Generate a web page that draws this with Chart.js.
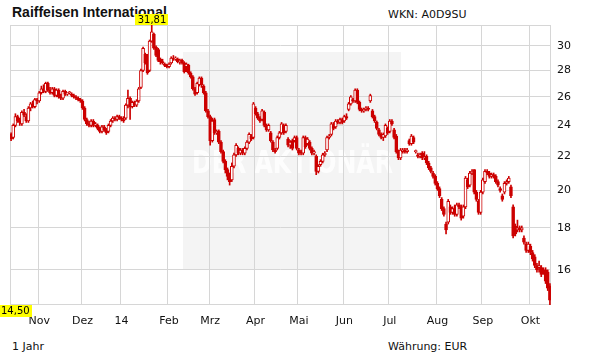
<!DOCTYPE html>
<html>
<head>
<meta charset="utf-8">
<script src="https://cdn.jsdelivr.net/npm/chart.js@4.4.1/dist/chart.umd.min.js"></script>
<style>
  html, body { margin: 0; padding: 0; background: #fff; }
  #wrap { position: relative; width: 611px; height: 364px; font-family: 'DejaVu Sans', Verdana, sans-serif; color: #111; }
  #wrap canvas { position: absolute; left: 0; top: 0; }
  .txt { position: absolute; font-size: 11px; line-height: 13px; white-space: nowrap; }
  #title { left: 12px; top: 4px; font: bold 14px/16px 'Liberation Sans', Arial, sans-serif; }
</style>
</head>
<body>
<div id="wrap">
  <div id="title" class="txt">Raiffeisen International</div>
  <div class="txt" style="left:388px; top:8px">WKN: A0D9SU</div>
  <div class="txt" style="left:12px; top:340px">1 Jahr</div>
  <div class="txt" style="left:388px; top:340px">Währung: EUR</div>
  <canvas id="kurs"></canvas>
</div>
<script>
// month tick labels and number of trading days shown per month (Okt 2013 .. Okt 2014)
const monthTicks = ['', 'Nov', 'Dez', '14', 'Feb', 'Mrz', 'Apr', 'Mai', 'Jun', 'Jul', 'Aug', 'Sep', 'Okt'];
const monthDays = [13, 20, 18, 22, 19, 21, 20, 21, 21, 22, 21, 22, 10];
const yTicks = [16, 18, 20, 22, 24, 26, 28, 30];

// daily prices (EUR)
const open = [
  23.4, 23.2, 24.0, 24.6, 24.3, 24.1, 24.9, 24.6, 24.3, 25.2,
  25.5, 25.3, 25.8, 25.7, 26.3, 26.6, 26.4, 27.0, 26.5, 26.3,
  26.6, 26.1, 26.5, 26.0, 25.9, 26.4, 26.2, 26.3, 26.2, 26.1,
  26.0, 25.9, 25.8, 25.7, 25.2, 24.4, 24.1, 24.0, 24.3, 24.0,
  24.0, 23.8, 23.6, 23.9, 23.7, 23.6, 24.0, 24.3, 24.5, 24.4,
  24.6, 24.5, 24.4, 24.5, 25.4, 25.9, 25.3, 25.6, 25.4, 25.7,
  26.7, 28.0, 29.3, 29.2, 28.0, 30.4, 31.0, 29.9, 29.7, 28.9,
  28.7, 28.5, 28.4, 28.3, 28.6, 29.0, 28.9, 28.9, 28.7, 28.8,
  28.6, 28.3, 28.4, 27.8, 27.5, 26.6, 26.3, 26.9, 27.4, 26.8,
  26.3, 25.0, 24.6, 23.0, 24.4, 23.5, 23.6, 22.9, 22.3, 21.7,
  21.2, 20.8, 20.6, 21.4, 22.1, 22.5, 22.2, 22.4, 22.2, 22.5,
  22.9, 23.3, 23.2, 25.2, 24.8, 24.5, 24.4, 24.9, 24.0, 23.7,
  23.5, 22.9, 22.4, 22.5, 23.2, 23.5, 24.0, 23.6, 23.1, 22.7,
  23.0, 23.0, 23.2, 22.4, 22.3, 22.2, 23.2, 22.8, 22.9, 22.5,
  22.2, 22.0, 21.1, 21.5, 21.7, 22.1, 22.4, 23.2, 23.4, 24.0,
  23.9, 24.3, 24.2, 24.4, 24.3, 24.6, 25.1, 25.5, 25.8, 25.7,
  26.5, 25.6, 25.1, 25.0, 25.1, 25.2, 25.7, 25.0, 24.6, 24.2,
  23.7, 23.4, 23.2, 23.3, 23.8, 23.6, 24.3, 23.7, 23.3, 22.3,
  21.9, 22.3, 22.4, 22.3, 23.0, 22.8, 23.2, 22.3, 22.1, 22.0,
  22.2, 21.9, 22.0, 21.6, 21.3, 21.0, 20.8, 20.4, 20.1, 19.5,
  19.0, 18.2, 18.3, 19.1, 18.8, 19.0, 18.7, 19.2, 19.1, 18.6,
  19.1, 20.6, 20.3, 21.0, 21.2, 19.9, 19.4, 18.8, 19.9, 20.5,
  21.1, 21.0, 20.8, 20.9, 20.8, 20.5, 20.1, 19.7, 19.9, 20.4,
  20.5, 20.2, 19.1, 18.1, 17.9, 18.0, 17.9, 17.5, 17.2, 16.9,
  17.1, 16.8, 16.6, 16.2, 16.1, 16.1, 16.0, 16.0, 15.9, 15.3
];
const close = [
  23.1, 24.0, 24.6, 24.3, 24.2, 24.9, 24.7, 24.3, 25.2, 25.5,
  25.3, 25.8, 25.7, 26.3, 26.6, 26.4, 27.0, 26.5, 26.3, 26.6,
  26.1, 26.5, 26.0, 25.9, 26.4, 26.2, 26.2, 26.3, 26.1, 26.0,
  25.9, 25.8, 25.7, 25.2, 24.4, 24.1, 24.0, 24.3, 24.0, 24.1,
  23.8, 23.6, 23.9, 23.7, 23.5, 24.0, 24.3, 24.5, 24.4, 24.6,
  24.5, 24.4, 24.3, 25.4, 25.9, 25.3, 25.6, 25.4, 25.7, 26.6,
  28.0, 29.8, 28.6, 27.8, 30.4, 31.2, 29.8, 29.2, 28.8, 28.7,
  28.6, 28.4, 28.3, 28.5, 29.0, 28.9, 29.0, 28.7, 28.8, 28.6,
  27.9, 28.5, 27.8, 27.5, 26.6, 26.2, 27.0, 27.4, 26.9, 26.3,
  25.0, 24.6, 23.0, 24.3, 23.5, 23.6, 22.9, 22.3, 21.7, 21.2,
  20.8, 20.5, 21.4, 22.1, 22.7, 22.2, 22.4, 22.2, 22.5, 22.9,
  23.4, 23.1, 25.5, 24.8, 24.5, 24.3, 25.0, 24.0, 23.7, 24.0,
  23.0, 22.4, 22.3, 23.2, 23.5, 24.1, 23.5, 24.0, 22.7, 22.9,
  22.5, 23.2, 22.5, 22.2, 22.2, 23.2, 22.6, 23.1, 22.5, 22.2,
  22.3, 21.1, 21.4, 21.7, 22.1, 22.2, 23.2, 23.3, 24.1, 23.8,
  24.3, 24.2, 24.4, 24.2, 24.6, 24.5, 25.5, 26.0, 25.7, 26.5,
  25.6, 25.1, 25.0, 25.1, 25.2, 25.1, 26.1, 24.6, 24.3, 23.8,
  23.4, 23.2, 23.4, 24.0, 23.5, 24.3, 24.1, 23.2, 22.3, 21.9,
  22.4, 22.4, 22.3, 22.4, 22.8, 23.3, 22.9, 22.3, 22.0, 22.1,
  21.9, 22.0, 21.6, 21.3, 21.1, 20.8, 20.4, 20.1, 19.7, 19.0,
  18.7, 17.9, 19.4, 18.8, 19.0, 18.7, 19.2, 19.1, 18.5, 19.1,
  20.7, 20.2, 21.0, 21.1, 19.9, 19.5, 18.8, 19.9, 20.6, 21.1,
  21.0, 20.8, 20.9, 20.8, 20.5, 20.3, 20.0, 19.5, 20.4, 20.5,
  20.7, 19.7, 17.6, 17.7, 18.0, 17.9, 18.0, 17.3, 16.9, 17.2,
  16.8, 16.5, 16.2, 16.0, 16.2, 15.8, 15.9, 15.5, 15.2, 14.7
];
const high = [
  23.5, 24.1, 24.8, 24.7, 24.5, 25.0, 25.1, 24.8, 25.3, 25.6,
  25.7, 25.9, 25.9, 26.4, 26.8, 26.9, 27.1, 27.1, 26.7, 26.7,
  26.7, 26.6, 26.6, 26.2, 26.5, 26.5, 26.3, 26.4, 26.3, 26.2,
  26.1, 26.0, 25.9, 25.8, 25.3, 24.5, 24.3, 24.4, 24.4, 24.2,
  24.1, 23.9, 24.0, 24.0, 23.8, 24.1, 24.4, 24.6, 24.6, 24.7,
  24.7, 24.6, 24.6, 25.5, 26.5, 26.0, 25.7, 25.7, 25.8, 26.7,
  28.1, 29.9, 29.4, 29.3, 30.5, 31.81, 31.1, 30.0, 29.8, 29.0,
  28.9, 28.6, 28.5, 28.6, 29.1, 29.2, 29.1, 29.0, 28.9, 28.9,
  28.7, 28.6, 28.5, 27.9, 27.6, 26.7, 27.1, 27.5, 27.5, 26.9,
  26.4, 25.1, 24.7, 24.5, 24.5, 23.7, 23.7, 23.0, 22.4, 21.8,
  21.3, 21.0, 21.6, 22.2, 22.8, 22.6, 22.5, 22.5, 22.6, 23.0,
  23.5, 23.4, 25.6, 25.3, 24.9, 24.6, 25.1, 25.0, 24.1, 24.1,
  23.6, 23.0, 22.5, 23.3, 23.6, 24.2, 24.1, 24.1, 23.2, 23.0,
  23.1, 23.3, 23.3, 22.5, 22.4, 23.3, 23.3, 23.2, 23.0, 22.6,
  22.4, 22.1, 21.5, 21.8, 22.2, 22.3, 23.3, 23.4, 24.2, 24.2,
  24.4, 24.4, 24.5, 24.5, 24.7, 24.8, 25.6, 26.1, 25.9, 26.6,
  26.6, 25.7, 25.2, 25.2, 25.3, 25.3, 26.2, 25.1, 24.7, 24.3,
  23.8, 23.5, 23.5, 24.1, 23.9, 24.4, 24.4, 23.8, 23.4, 22.4,
  22.5, 22.5, 22.5, 22.5, 23.1, 23.4, 23.3, 22.4, 22.2, 22.2,
  22.3, 22.3, 22.1, 21.7, 21.4, 21.1, 20.9, 20.5, 20.2, 19.6,
  19.1, 18.3, 19.5, 19.2, 19.1, 19.2, 19.3, 19.3, 19.2, 19.2,
  20.8, 20.7, 21.1, 21.2, 21.2, 20.0, 19.5, 20.0, 20.7, 21.2,
  21.2, 21.1, 21.0, 21.0, 20.9, 20.6, 20.2, 19.8, 20.5, 20.6,
  20.8, 20.3, 19.2, 18.2, 18.4, 18.1, 18.1, 17.6, 17.3, 17.3,
  17.2, 16.9, 16.7, 16.3, 16.4, 16.2, 16.1, 16.1, 16.0, 15.4
];
const low = [
  23.0, 23.1, 23.9, 24.2, 24.0, 24.0, 24.6, 24.2, 24.2, 25.0,
  25.2, 25.2, 25.5, 25.6, 26.2, 26.3, 26.3, 26.4, 26.2, 26.2,
  26.0, 26.0, 25.9, 25.8, 25.8, 26.1, 26.1, 26.2, 26.0, 25.9,
  25.8, 25.7, 25.6, 25.1, 24.3, 24.0, 23.9, 23.9, 23.9, 23.9,
  23.7, 23.5, 23.5, 23.6, 23.4, 23.5, 23.9, 24.2, 24.3, 24.3,
  24.4, 24.3, 24.2, 24.4, 25.2, 24.4, 25.2, 25.3, 25.3, 25.6,
  26.6, 27.9, 28.5, 27.7, 27.9, 30.3, 29.7, 29.1, 28.7, 28.5,
  28.5, 28.3, 28.2, 28.2, 28.5, 28.8, 28.8, 28.6, 28.5, 28.5,
  27.8, 27.9, 27.7, 27.4, 26.5, 26.1, 26.2, 26.8, 26.7, 26.2,
  24.9, 24.5, 22.7, 22.9, 23.4, 23.4, 22.8, 22.2, 21.6, 21.0,
  20.6, 20.3, 20.5, 21.3, 22.0, 22.1, 22.1, 22.1, 22.1, 22.4,
  22.8, 23.0, 23.1, 24.7, 24.4, 24.2, 24.3, 23.9, 23.6, 23.6,
  22.9, 22.3, 22.2, 22.4, 23.1, 23.4, 23.4, 23.5, 22.6, 22.5,
  22.4, 22.9, 22.4, 22.1, 22.1, 22.1, 22.5, 22.7, 22.4, 22.1,
  22.1, 20.9, 21.0, 21.4, 21.6, 22.0, 22.3, 23.1, 23.3, 23.7,
  23.8, 24.1, 24.1, 24.1, 24.2, 24.4, 25.0, 25.4, 25.6, 25.6,
  25.5, 25.0, 24.9, 24.9, 25.0, 25.0, 25.6, 24.5, 24.2, 23.7,
  23.3, 23.1, 23.0, 23.2, 23.4, 23.5, 24.0, 23.1, 22.2, 21.8,
  21.8, 22.2, 22.2, 22.2, 22.7, 22.7, 22.8, 22.2, 21.9, 21.9,
  21.8, 21.8, 21.5, 21.2, 21.0, 20.7, 20.3, 20.0, 19.6, 18.9,
  18.6, 17.7, 18.2, 18.7, 18.7, 18.6, 18.6, 19.0, 18.4, 18.5,
  19.0, 20.1, 20.2, 20.9, 19.8, 19.4, 18.7, 18.7, 19.8, 20.4,
  20.9, 20.7, 20.7, 20.7, 20.4, 20.2, 19.9, 19.4, 19.8, 20.3,
  20.4, 19.6, 17.5, 17.6, 17.8, 17.8, 17.8, 17.2, 16.8, 16.8,
  16.7, 16.4, 16.1, 15.9, 15.9, 15.7, 15.8, 15.4, 15.1, 14.5
];

// one category per trading day, month name on the first day of each month
const labels = [];
monthDays.forEach((n, m) => {
  for (let d = 0; d < n; d++) labels.push(d === 0 ? monthTicks[m] : '');
});

const red = '#cc0000';
const gridColor = '#d6d6d6';
const tickFont = { family: "'DejaVu Sans', Verdana, sans-serif", size: 11 };
const yMax = Math.max(...high);
const yMin = Math.min(...low);

// light grey "Der Aktionär" watermark panel behind the grid
const watermark = {
  id: 'watermark',
  beforeDraw(chart) {
    const ctx = chart.ctx;
    ctx.save();
    ctx.fillStyle = '#f4f4f4';
    ctx.fillRect(183, 52, 218, 218);
    ctx.font = "bold 32px 'DejaVu Sans', sans-serif";
    const txt = 'DER AKTIONÄR';
    const w = ctx.measureText(txt).width;
    ctx.translate(192, 173);
    ctx.scale(201 / w, 1);
    ctx.fillStyle = '#fdfdfd';
    ctx.textBaseline = 'alphabetic';
    ctx.fillText(txt, 0, 0);
    ctx.restore();
  }
};

// frame round the plot area
const frame = {
  id: 'frame',
  beforeDatasetsDraw(chart) {
    const { ctx, chartArea: a } = chart;
    ctx.save();
    ctx.strokeStyle = gridColor;
    ctx.lineWidth = 1;
    ctx.strokeRect(a.left + 0.5, a.top + 0.5, a.right - a.left - 1, a.bottom - a.top - 1);
    ctx.restore();
  }
};

// yellow high / low price tags
const priceTags = {
  id: 'priceTags',
  afterDatasetsDraw(chart) {
    const ctx = chart.ctx;
    const xs = chart.scales.x, ys = chart.scales.y;
    ctx.save();
    ctx.font = "10px 'DejaVu Sans', sans-serif";
    ctx.textBaseline = 'middle';
    const t1 = yMax.toFixed(2).replace('.', ',');
    const w1 = Math.round(ctx.measureText(t1).width + 4);
    const x1 = xs.getPixelForValue(high.indexOf(yMax));
    const y1 = ys.getPixelForValue(yMax);
    ctx.fillStyle = '#ffff00';
    ctx.fillRect(Math.round(x1 - w1 / 2), y1 - 11, w1, 11);
    ctx.fillStyle = '#000';
    ctx.textAlign = 'center';
    ctx.fillText(t1, Math.round(x1), y1 - 5);
    const t2 = yMin.toFixed(2).replace('.', ',');
    const w2 = Math.round(ctx.measureText(t2).width + 3);
    const y2 = ys.getPixelForValue(yMin);
    ctx.fillStyle = '#ffff00';
    ctx.fillRect(0, y2, w2, 12);
    ctx.fillStyle = '#000';
    ctx.textAlign = 'left';
    ctx.fillText(t2, 1, y2 + 6.5);
    ctx.restore();
  }
};

new Chart(document.getElementById('kurs'), {
  type: 'bar',
  data: {
    labels: labels,
    datasets: [{
      label: 'Body',
      data: open.map((o, i) => [o, close[i]]),
      backgroundColor: open.map((o, i) => close[i] < o ? red : '#ffffff'),
      borderColor: red,
      borderWidth: 1,
      borderSkipped: false,
      barThickness: 3,
      minBarLength: 1,
      grouped: false,
      order: 0
    }, {
      label: 'Range',
      data: low.map((l, i) => [l, high[i]]),
      backgroundColor: red,
      borderWidth: 0,
      barThickness: 1,
      grouped: false,
      order: 1
    }]
  },
  options: {
    responsive: true,
    maintainAspectRatio: false,
    animation: false,
    layout: { padding: { left: 10, top: 25, right: 0, bottom: 0 } },
    plugins: { legend: { display: false }, tooltip: { enabled: false } },
    scales: {
      x: {
        type: 'category',
        offset: true,
        grid: {
          offset: true,
          drawTicks: false,
          color: ctx => labels[ctx.index] ? gridColor : 'rgba(0,0,0,0)'
        },
        border: { display: false },
        ticks: {
          autoSkip: false, maxRotation: 0, minRotation: 0, padding: 10,
          font: tickFont, color: '#111',
          callback: (v, i) => labels[i]
        },
        afterFit: s => { s.height = 59; }
      },
      y: {
        type: 'logarithmic',
        position: 'right',
        min: yMin,
        max: yMax,
        grid: { color: gridColor, drawTicks: false },
        border: { display: false },
        ticks: { padding: 6, font: tickFont, color: '#111', callback: v => String(v) },
        afterBuildTicks: s => { s.ticks = yTicks.map(v => ({ value: v })); },
        afterFit: s => { s.width = 60; }
      }
    }
  },
  plugins: [watermark, frame, priceTags]
});
</script>
</body>
</html>
